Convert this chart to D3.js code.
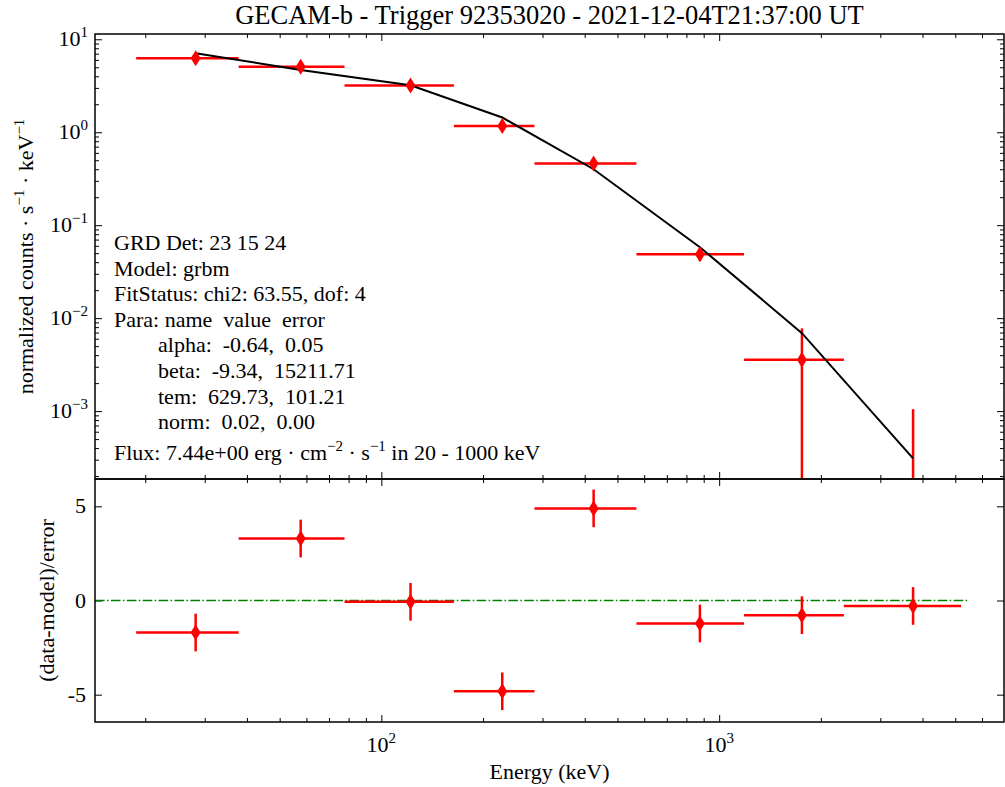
<!DOCTYPE html>
<html>
<head>
<meta charset="utf-8">
<script src="https://cdn.jsdelivr.net/npm/d3@7"></script>
<style>
  body { margin: 0; background: #fff; }
  text { font-family: "Liberation Serif", "DejaVu Serif", serif; fill: #000; }
</style>
</head>
<body>
<div id="main"></div>
<script>
// spectrum data
var energy   = [28.2, 57.7, 122, 228, 425, 877, 1758, 3750],   // keV, bin centres
    binLo    = [18.8, 37.8, 77.8, 164, 284, 569, 1185, 2340],
    binHi    = [37.8, 77.8, 164, 284, 569, 1185, 2340, 5200],
    counts   = [6.25, 5.08, 3.18, 1.17, 0.46, 0.0488, 0.00356, 0.00001],
    countErr = [0.49, 0.12, 0.2, 0.055, 0.012, 0.0077, 0.0042, 0.00104],
    model    = [7.08, 4.68, 3.2, 1.44, 0.40, 0.058, 0.0069, 0.00031],
    resid    = [-1.70, 3.29, -0.07, -4.82, 4.89, -1.22, -0.78, -0.29],
    residErr = [1, 1, 1, 1, 1, 1, 1, 1];

var xDomain = [14.2, 6970],
    yDomain = [1.86e-4, 11.4],
    rDomain = [-6.45, 6.45],
    zeroLine = [14.2, 5450];

var xMajor = [100, 1000],
    yMajor = [10, 1, 0.1, 0.01, 0.001],
    rMajor = [5, 0, -5];

var title = "GECAM-b - Trigger 92353020 - 2021-12-04T21:37:00 UT";
var infoLines = [
  "GRD Det: 23 15 24",
  "Model: grbm",
  "FitStatus: chi2: 63.55, dof: 4",
  "Para: name  value  error",
  "        alpha:  -0.64,  0.05",
  "        beta:  -9.34,  15211.71",
  "        tem:  629.73,  101.21",
  "        norm:  0.02,  0.00"
];

// layout
var W = 1005, H = 787,
    left = 95, right = 1004,
    top1 = 34, bot1 = 479,
    top2 = 479, bot2 = 722,
    fs = 22, fsSup = 15;

var svg = d3.select('#main').append('svg')
  .attr('width', W).attr('height', H);

var x = d3.scaleLog().domain(xDomain).range([left, right]),
    y = d3.scaleLog().domain(yDomain).range([bot1, top1]),
    r = d3.scaleLinear().domain(rDomain).range([bot2, top2]);

// minor ticks for log axes
function logMinors(dom) {
  var out = [];
  for (var e = Math.floor(Math.log10(dom[0])); e <= Math.ceil(Math.log10(dom[1])); e++) {
    for (var k = 2; k <= 9; k++) {
      var v = k * Math.pow(10, e);
      if (v > dom[0] && v < dom[1]) out.push(v);
    }
  }
  return out;
}
var xMinor = logMinors(xDomain),
    yMinor = logMinors(yDomain);

// clip paths
var defs = svg.append('defs');
defs.append('clipPath').attr('id', 'clip1').append('rect')
  .attr('x', left).attr('y', top1).attr('width', right - left).attr('height', bot1 - top1);
defs.append('clipPath').attr('id', 'clip2').append('rect')
  .attr('x', left).attr('y', top2).attr('width', right - left).attr('height', bot2 - top2);

function tickAxis(axis, pos, vals, size) {
  var g = svg.append('g').attr('transform', pos)
    .call(axis.tickValues(vals).tickSize(-size).tickFormat(''));
  g.select('.domain').remove();
  g.selectAll('line').attr('stroke', '#000').attr('stroke-width', 1);
  return g;
}

function supLabel(sel, base, exp) {
  sel.text(base);
  sel.append('tspan').attr('dy', -9).attr('font-size', fsSup).text(exp);
}

// ticks, inward on all four sides of both panels
[[d3.axisTop(x), 'translate(0,' + top1 + ')'],
 [d3.axisBottom(x), 'translate(0,' + bot1 + ')'],
 [d3.axisTop(x), 'translate(0,' + top2 + ')'],
 [d3.axisBottom(x), 'translate(0,' + bot2 + ')']].forEach(function(a) {
  tickAxis(a[0], a[1], xMinor, 4);
  tickAxis(a[0], a[1], xMajor, 7);
});
tickAxis(d3.axisLeft(y), 'translate(' + left + ',0)', yMinor, 4);
tickAxis(d3.axisLeft(y), 'translate(' + left + ',0)', yMajor, 7);
tickAxis(d3.axisRight(y), 'translate(' + right + ',0)', yMinor, 4);
tickAxis(d3.axisRight(y), 'translate(' + right + ',0)', yMajor, 7);
tickAxis(d3.axisLeft(r), 'translate(' + left + ',0)', rMajor, 7);
tickAxis(d3.axisRight(r), 'translate(' + right + ',0)', rMajor, 7);

// tick labels
yMajor.forEach(function(v) {
  var t = svg.append('text').attr('x', left - 7).attr('y', y(v) + 7)
    .attr('text-anchor', 'end').attr('font-size', fs);
  var e = Math.round(Math.log10(v));
  supLabel(t, '10', e < 0 ? '\u2212' + (-e) : '' + e);
});
xMajor.forEach(function(v) {
  var t = svg.append('text').attr('x', x(v)).attr('y', bot2 + 30)
    .attr('text-anchor', 'middle').attr('font-size', fs);
  supLabel(t, '10', '' + Math.round(Math.log10(v)));
});
rMajor.forEach(function(v) {
  svg.append('text').attr('x', left - 9).attr('y', r(v) + 7)
    .attr('text-anchor', 'end').attr('font-size', fs).text(v);
});

// ---- data, upper panel
var p1 = svg.append('g').attr('clip-path', 'url(#clip1)');
var red = '#ff0000';
energy.forEach(function(e, i) {
  p1.append('line').attr('x1', x(binLo[i])).attr('x2', x(binHi[i]))
    .attr('y1', y(counts[i])).attr('y2', y(counts[i]))
    .attr('stroke', red).attr('stroke-width', 2.5);
  var lo = counts[i] - countErr[i];
  p1.append('line').attr('x1', x(e)).attr('x2', x(e))
    .attr('y1', y(counts[i] + countErr[i])).attr('y2', lo > 0 ? y(lo) : bot1 + 10)
    .attr('stroke', red).attr('stroke-width', 2.5);
});
p1.append('path')
  .datum(energy.map(function(e, i) { return [e, model[i]]; }))
  .attr('d', d3.line().x(function(d) { return x(d[0]); }).y(function(d) { return y(d[1]); }))
  .attr('fill', 'none').attr('stroke', '#000').attr('stroke-width', 2);
energy.forEach(function(e, i) {
  p1.append('path').attr('d', 'M0,-8L5,0L0,8L-5,0Z')
    .attr('transform', 'translate(' + x(e) + ',' + y(counts[i]) + ')')
    .attr('fill', red);
});

// ---- residuals, lower panel
var p2 = svg.append('g').attr('clip-path', 'url(#clip2)');
p2.append('line').attr('x1', x(zeroLine[0])).attr('x2', x(zeroLine[1]))
  .attr('y1', r(0)).attr('y2', r(0))
  .attr('stroke', '#008000').attr('stroke-width', 1.5)
  .attr('stroke-dasharray', '9.6,2.4,1.5,2.4');
energy.forEach(function(e, i) {
  p2.append('line').attr('x1', x(binLo[i])).attr('x2', x(binHi[i]))
    .attr('y1', r(resid[i])).attr('y2', r(resid[i]))
    .attr('stroke', red).attr('stroke-width', 2.5);
  p2.append('line').attr('x1', x(e)).attr('x2', x(e))
    .attr('y1', r(resid[i] + residErr[i])).attr('y2', r(resid[i] - residErr[i]))
    .attr('stroke', red).attr('stroke-width', 2.5);
  p2.append('path').attr('d', 'M0,-8L5,0L0,8L-5,0Z')
    .attr('transform', 'translate(' + x(e) + ',' + r(resid[i]) + ')')
    .attr('fill', red);
});

// frames
[[top1, bot1], [top2, bot2]].forEach(function(p) {
  svg.append('rect').attr('x', left).attr('y', p[0])
    .attr('width', right - left).attr('height', p[1] - p[0])
    .attr('fill', 'none').attr('stroke', '#000').attr('stroke-width', 1.5);
});

// annotation text
var info = svg.append('text').attr('font-size', fs).attr('xml:space', 'preserve');
infoLines.forEach(function(s, i) {
  info.append('tspan').attr('x', 114).attr('y', 250 + i * 25.6).text(s);
});
var flux = svg.append('text').attr('x', 114).attr('y', 460).attr('font-size', fs);
flux.append('tspan').text('Flux: 7.44e+00 erg \u00b7 cm');
flux.append('tspan').attr('dy', -9).attr('font-size', fsSup).text('\u22122');
flux.append('tspan').attr('dy', 9).text(' \u00b7 s');
flux.append('tspan').attr('dy', -9).attr('font-size', fsSup).text('\u22121');
flux.append('tspan').attr('dy', 9).text(' in 20 - 1000 keV');

// titles and axis labels
svg.append('text').attr('x', (left + right) / 2).attr('y', 24)
  .attr('text-anchor', 'middle').attr('font-size', 26.5).text(title);
svg.append('text').attr('x', (left + right) / 2).attr('y', 779)
  .attr('text-anchor', 'middle').attr('font-size', fs).text('Energy (keV)');

var yl = svg.append('text').attr('transform', 'translate(33,' + ((top1 + bot1) / 2) + ') rotate(-90)')
  .attr('text-anchor', 'middle').attr('font-size', fs);
yl.append('tspan').text('normalized counts \u00b7 s');
yl.append('tspan').attr('dy', -9).attr('font-size', fsSup).text('\u22121');
yl.append('tspan').attr('dy', 9).text(' \u00b7 keV');
yl.append('tspan').attr('dy', -9).attr('font-size', fsSup).text('\u22121');

svg.append('text').attr('transform', 'translate(54,' + ((top2 + bot2) / 2) + ') rotate(-90)')
  .attr('text-anchor', 'middle').attr('font-size', fs).text('(data-model)/error');
</script>
</body>
</html>
